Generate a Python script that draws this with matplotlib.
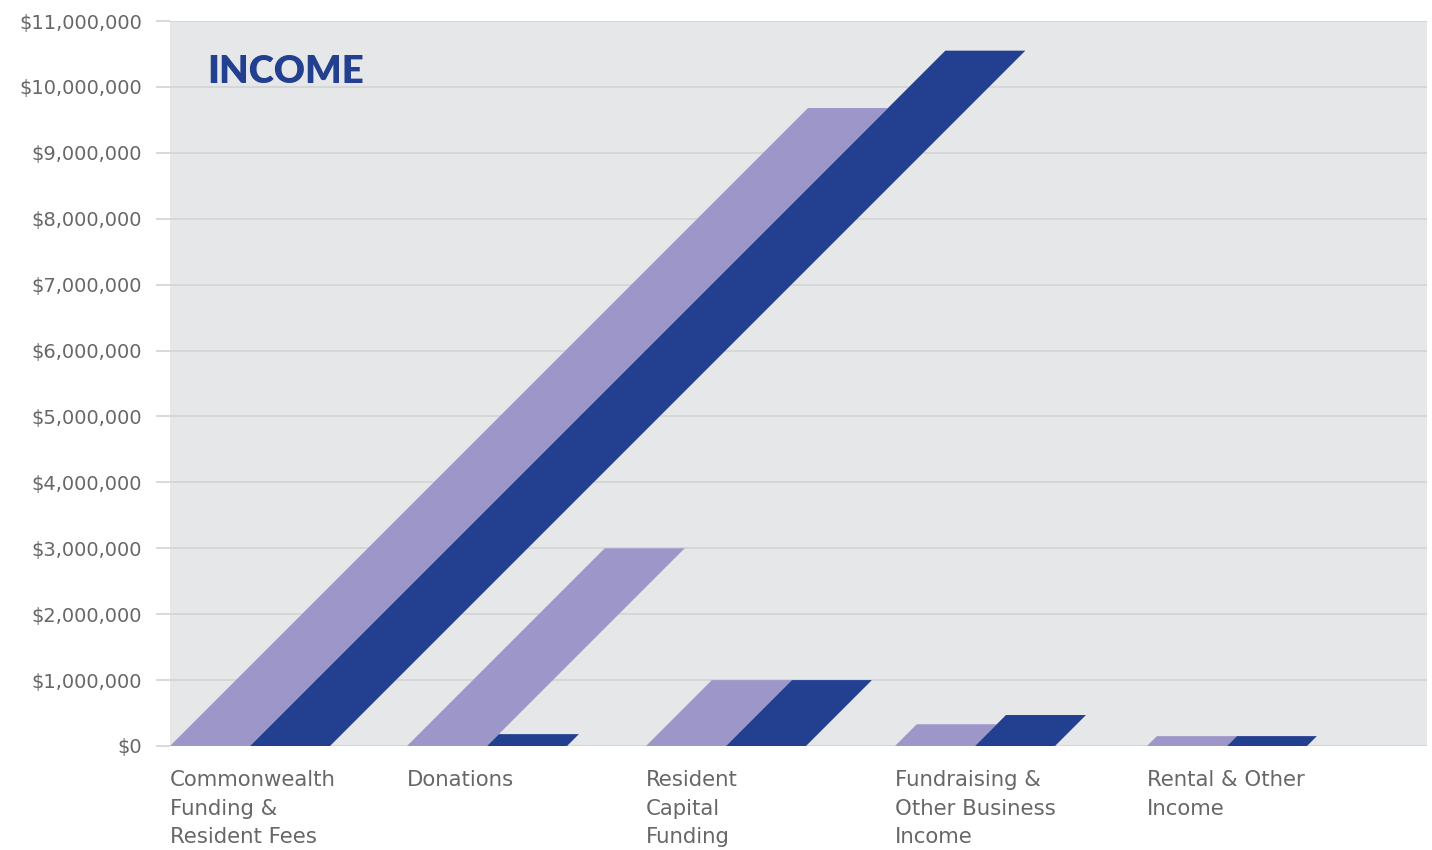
import matplotlib
matplotlib.use("Agg")
import matplotlib.pyplot as plt
from matplotlib.patches import Polygon
from matplotlib.ticker import FuncFormatter

categories = ["Commonwealth\nFunding &\nResident Fees", "Donations",
              "Resident\nCapital\nFunding", "Fundraising &\nOther Business\nIncome",
              "Rental & Other\nIncome"]
series_light = [9680000, 3000000, 1000000, 330000, 150000]
series_dark = [10550000, 180000, 1000000, 470000, 150000]
yticks = list(range(0, 11000001, 1000000))

# layout (in pixel-like x units)
cat_pos = [0, 237, 476, 725, 977]
bar_w = 80
light_c = "#9d97c9"
dark_c = "#233f8f"
text_c = "#676767"
FONT = "DejaVu Sans"

W, H = 1432, 850
fig = plt.figure(figsize=(W / 100, H / 100), dpi=100)
fig.patch.set_facecolor("white")
L, R, T, B = 170, 1427, 21, 746
ax = fig.add_axes([L / W, (H - B) / H, (R - L) / W, (B - T) / H])
ax.set_facecolor("#e6e7e9")
ax.set_xlim(0, R - L)
ax.set_ylim(0, 11000000)

# shear: horizontal offset equal to the vertical pixel height (45 deg)
px_per_unit_y = (B - T) / 11000000.0
x_per_px = (R - L) / float(R - L)

def slanted(x0, v, color):
    dx = v * px_per_unit_y * x_per_px
    poly = Polygon([(x0, 0), (x0 + bar_w, 0), (x0 + bar_w + dx, v), (x0 + dx, v)],
                   closed=True, facecolor=color, edgecolor="none", zorder=3)
    ax.add_patch(poly)

for i, c in enumerate(categories):
    slanted(cat_pos[i], series_light[i], light_c)
    slanted(cat_pos[i] + bar_w, series_dark[i], dark_c)

ax.set_yticks(yticks)
ax.yaxis.set_major_formatter(FuncFormatter(lambda v, p: "${:,.0f}".format(v)))
ax.grid(axis="y", color="#d2d3d5", linewidth=1.2, zorder=1)
ax.set_axisbelow(True)
ax.tick_params(axis="y", length=10, color="#d2d3d5", width=1.2, pad=10,
               labelsize=14, labelcolor=text_c)
for lab in ax.get_yticklabels():
    lab.set_fontfamily(FONT)
ax.set_xticks([])
for s in ax.spines.values():
    s.set_visible(False)

for i, c in enumerate(categories):
    ax.text(cat_pos[i], -370000, c, ha="left", va="top", fontsize=15.3,
            color=text_c, family=FONT, linespacing=1.52,
            transform=ax.transData, clip_on=False)

ax.text(37, 10230000, "INCOME", ha="left", va="center", fontsize=27.5,
        fontweight="heavy", color=dark_c, family="Lato")

fig.savefig("out.png", dpi=100)
